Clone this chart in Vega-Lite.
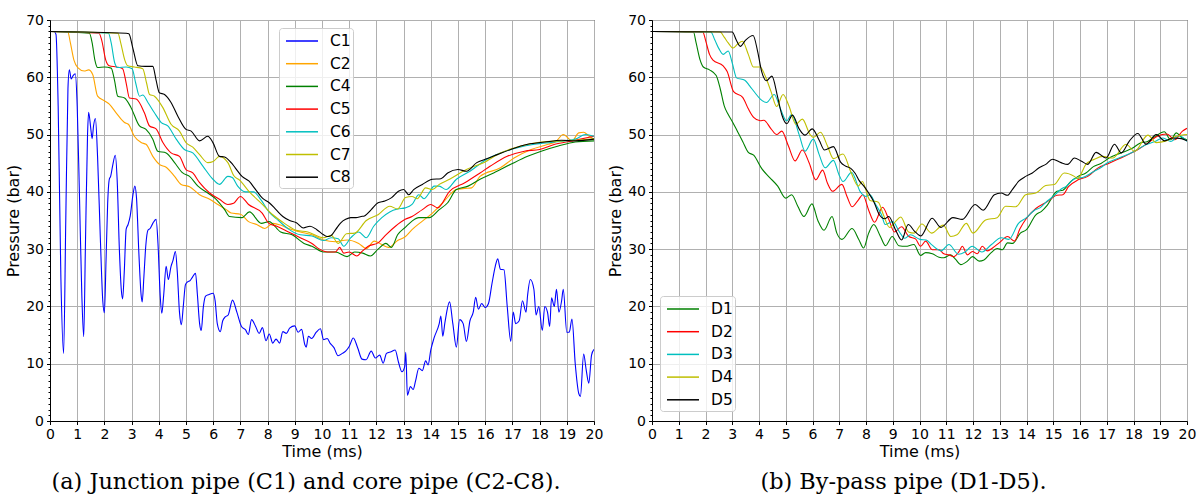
{
"$schema": "https://vega.github.io/schema/vega-lite/v6.json",
"padding": {"left": 5, "top": 12, "right": 5, "bottom": 0},
"background": "white",
"spacing": 3,
"config": {
  "view": {"stroke": "black", "strokeWidth": 1},
  "font": "DejaVu Sans",
  "axis": {"labelFont": "DejaVu Sans", "labelFontSize": 14, "labelColor": "black", "titleFont": "DejaVu Sans", "titleFontSize": 16, "titleFontWeight": "normal", "titleColor": "black", "domainColor": "black", "tickColor": "black", "gridColor": "#b0b0b0", "gridWidth": 1, "tickSize": 3.5, "labelPadding": 3},
  "legend": {"orient": "none", "title": null, "symbolType": "M-1.6,0H1.6", "symbolSize": 400, "symbolStrokeWidth": 1.5, "labelFont": "DejaVu Sans", "labelFontSize": 15.5, "labelColor": "black", "labelOffset": 17, "symbolOffset": 10, "padding": 2, "rowPadding": 2.7, "strokeColor": "#cccccc", "fillColor": "rgba(255,255,255,0.8)", "cornerRadius": 3},
  "title": {"font": "DejaVu Serif", "fontSize": 22.4, "fontWeight": "normal", "color": "black", "orient": "bottom", "offset": 11, "anchor": "middle"}
},
"resolve": {"scale": {"color": "independent"}, "legend": {"color": "independent"}},
"datasets": {
"left": [
{"s":"C1","t":0,"p":68},{"s":"C1","t":0.15,"p":68},{"s":"C1","t":0.22,"p":67.5},{"s":"C1","t":0.3,"p":55},{"s":"C1","t":0.4,"p":25},{"s":"C1","t":0.5,"p":11.8},{"s":"C1","t":0.58,"p":35},{"s":"C1","t":0.66,"p":58},{"s":"C1","t":0.71,"p":61.3},{"s":"C1","t":0.78,"p":59.7},{"s":"C1","t":0.85,"p":60.3},{"s":"C1","t":0.93,"p":60.6},{"s":"C1","t":1.0,"p":55},{"s":"C1","t":1.08,"p":40},{"s":"C1","t":1.17,"p":22},{"s":"C1","t":1.24,"p":14.7},{"s":"C1","t":1.3,"p":30},{"s":"C1","t":1.38,"p":50},{"s":"C1","t":1.42,"p":53.9},{"s":"C1","t":1.5,"p":51},{"s":"C1","t":1.55,"p":49.3},{"s":"C1","t":1.6,"p":51.5},{"s":"C1","t":1.67,"p":52.8},{"s":"C1","t":1.75,"p":46},{"s":"C1","t":1.85,"p":32},{"s":"C1","t":1.94,"p":21},{"s":"C1","t":2.0,"p":18.9},{"s":"C1","t":2.06,"p":28},{"s":"C1","t":2.12,"p":38},{"s":"C1","t":2.18,"p":42.2},{"s":"C1","t":2.23,"p":42.7},{"s":"C1","t":2.3,"p":44.5},{"s":"C1","t":2.4,"p":46.4},{"s":"C1","t":2.47,"p":42},{"s":"C1","t":2.55,"p":30},{"s":"C1","t":2.62,"p":23},{"s":"C1","t":2.67,"p":21.3},{"s":"C1","t":2.73,"p":26},{"s":"C1","t":2.8,"p":33.5},{"s":"C1","t":2.87,"p":34.3},{"s":"C1","t":2.95,"p":35.8},{"s":"C1","t":3.05,"p":39.5},{"s":"C1","t":3.12,"p":41},{"s":"C1","t":3.18,"p":39},{"s":"C1","t":3.27,"p":29},{"s":"C1","t":3.35,"p":22},{"s":"C1","t":3.39,"p":20.8},{"s":"C1","t":3.45,"p":25},{"s":"C1","t":3.52,"p":30.5},{"s":"C1","t":3.6,"p":33.3},{"s":"C1","t":3.68,"p":33.6},{"s":"C1","t":3.78,"p":34.5},{"s":"C1","t":3.9,"p":35.2},{"s":"C1","t":3.97,"p":31},{"s":"C1","t":4.05,"p":22},{"s":"C1","t":4.11,"p":18.8},{"s":"C1","t":4.18,"p":22},{"s":"C1","t":4.27,"p":27},{"s":"C1","t":4.35,"p":24.7},{"s":"C1","t":4.45,"p":27},{"s":"C1","t":4.52,"p":28},{"s":"C1","t":4.61,"p":29.6},{"s":"C1","t":4.68,"p":26},{"s":"C1","t":4.76,"p":19},{"s":"C1","t":4.83,"p":16.8},{"s":"C1","t":4.9,"p":20},{"s":"C1","t":4.98,"p":23.8},{"s":"C1","t":5.06,"p":24.3},{"s":"C1","t":5.15,"p":24.5},{"s":"C1","t":5.25,"p":25.2},{"s":"C1","t":5.35,"p":25.8},{"s":"C1","t":5.42,"p":22},{"s":"C1","t":5.5,"p":17},{"s":"C1","t":5.56,"p":15.8},{"s":"C1","t":5.64,"p":20},{"s":"C1","t":5.72,"p":21.8},{"s":"C1","t":5.85,"p":22.1},{"s":"C1","t":6.0,"p":22.3},{"s":"C1","t":6.07,"p":21},{"s":"C1","t":6.15,"p":17},{"s":"C1","t":6.26,"p":15.6},{"s":"C1","t":6.35,"p":17.5},{"s":"C1","t":6.45,"p":18.2},{"s":"C1","t":6.55,"p":18.5},{"s":"C1","t":6.71,"p":21.1},{"s":"C1","t":6.87,"p":19},{"s":"C1","t":7.04,"p":16.5},{"s":"C1","t":7.19,"p":15.9},{"s":"C1","t":7.29,"p":15.1},{"s":"C1","t":7.41,"p":17.7},{"s":"C1","t":7.56,"p":16.5},{"s":"C1","t":7.69,"p":15.3},{"s":"C1","t":7.81,"p":16.3},{"s":"C1","t":7.94,"p":14},{"s":"C1","t":8.06,"p":15.2},{"s":"C1","t":8.19,"p":13.6},{"s":"C1","t":8.31,"p":14.3},{"s":"C1","t":8.44,"p":13.6},{"s":"C1","t":8.56,"p":15.6},{"s":"C1","t":8.69,"p":15.3},{"s":"C1","t":8.81,"p":16.2},{"s":"C1","t":9.0,"p":16.6},{"s":"C1","t":9.12,"p":15.5},{"s":"C1","t":9.25,"p":16},{"s":"C1","t":9.37,"p":13.3},{"s":"C1","t":9.42,"p":12.9},{"s":"C1","t":9.5,"p":14.8},{"s":"C1","t":9.62,"p":14.4},{"s":"C1","t":9.79,"p":15.5},{"s":"C1","t":9.94,"p":16.1},{"s":"C1","t":10.06,"p":14.2},{"s":"C1","t":10.19,"p":14.4},{"s":"C1","t":10.31,"p":13.5},{"s":"C1","t":10.44,"p":12.8},{"s":"C1","t":10.59,"p":11.4},{"s":"C1","t":10.75,"p":11.8},{"s":"C1","t":10.87,"p":12.2},{"s":"C1","t":11.0,"p":13},{"s":"C1","t":11.15,"p":14.5},{"s":"C1","t":11.31,"p":12.8},{"s":"C1","t":11.47,"p":10.8},{"s":"C1","t":11.62,"p":10.7},{"s":"C1","t":11.81,"p":12.2},{"s":"C1","t":11.96,"p":11},{"s":"C1","t":12.12,"p":11.5},{"s":"C1","t":12.25,"p":10.1},{"s":"C1","t":12.37,"p":11.8},{"s":"C1","t":12.54,"p":12.1},{"s":"C1","t":12.69,"p":12.4},{"s":"C1","t":12.81,"p":10.3},{"s":"C1","t":12.94,"p":8.6},{"s":"C1","t":13.04,"p":9.5},{"s":"C1","t":13.08,"p":12},{"s":"C1","t":13.14,"p":4.5},{"s":"C1","t":13.25,"p":6},{"s":"C1","t":13.35,"p":5.5},{"s":"C1","t":13.44,"p":7},{"s":"C1","t":13.56,"p":9.2},{"s":"C1","t":13.69,"p":8.8},{"s":"C1","t":13.81,"p":10.5},{"s":"C1","t":13.9,"p":9.8},{"s":"C1","t":14.0,"p":12.4},{"s":"C1","t":14.12,"p":14.5},{"s":"C1","t":14.31,"p":17},{"s":"C1","t":14.37,"p":18.3},{"s":"C1","t":14.44,"p":14.8},{"s":"C1","t":14.52,"p":17.2},{"s":"C1","t":14.69,"p":20.8},{"s":"C1","t":14.81,"p":17},{"s":"C1","t":14.94,"p":12.9},{"s":"C1","t":15.06,"p":17.7},{"s":"C1","t":15.19,"p":17},{"s":"C1","t":15.31,"p":13.9},{"s":"C1","t":15.44,"p":17.5},{"s":"C1","t":15.56,"p":19},{"s":"C1","t":15.65,"p":21.6},{"s":"C1","t":15.75,"p":19.5},{"s":"C1","t":15.87,"p":20.5},{"s":"C1","t":16.0,"p":19.8},{"s":"C1","t":16.12,"p":20.5},{"s":"C1","t":16.25,"p":24},{"s":"C1","t":16.37,"p":27},{"s":"C1","t":16.46,"p":28.3},{"s":"C1","t":16.56,"p":26.5},{"s":"C1","t":16.69,"p":26.4},{"s":"C1","t":16.81,"p":20},{"s":"C1","t":16.94,"p":13.9},{"s":"C1","t":17.03,"p":19},{"s":"C1","t":17.12,"p":17},{"s":"C1","t":17.25,"p":17.5},{"s":"C1","t":17.37,"p":21},{"s":"C1","t":17.5,"p":19},{"s":"C1","t":17.56,"p":22},{"s":"C1","t":17.66,"p":24.7},{"s":"C1","t":17.79,"p":23},{"s":"C1","t":17.87,"p":18.5},{"s":"C1","t":17.97,"p":20},{"s":"C1","t":18.1,"p":15.8},{"s":"C1","t":18.19,"p":20},{"s":"C1","t":18.29,"p":19},{"s":"C1","t":18.37,"p":16.5},{"s":"C1","t":18.44,"p":21.5},{"s":"C1","t":18.54,"p":20},{"s":"C1","t":18.62,"p":23},{"s":"C1","t":18.71,"p":19},{"s":"C1","t":18.81,"p":21},{"s":"C1","t":18.87,"p":23},{"s":"C1","t":19.0,"p":15.5},{"s":"C1","t":19.09,"p":15.5},{"s":"C1","t":19.19,"p":17.8},{"s":"C1","t":19.31,"p":10},{"s":"C1","t":19.44,"p":4.8},{"s":"C1","t":19.5,"p":4.3},{"s":"C1","t":19.62,"p":11.7},{"s":"C1","t":19.71,"p":9},{"s":"C1","t":19.81,"p":6.6},{"s":"C1","t":19.91,"p":11.5},{"s":"C1","t":20.0,"p":12.5},
{"s":"C2","t":0,"p":68},{"s":"C2","t":0.65,"p":68},{"s":"C2","t":0.75,"p":66},{"s":"C2","t":0.88,"p":63},{"s":"C2","t":1.02,"p":61.7},{"s":"C2","t":1.26,"p":61.1},{"s":"C2","t":1.42,"p":61.3},{"s":"C2","t":1.57,"p":60.5},{"s":"C2","t":1.75,"p":56.7},{"s":"C2","t":2.0,"p":55.9},{"s":"C2","t":2.18,"p":55.3},{"s":"C2","t":2.43,"p":53.8},{"s":"C2","t":2.74,"p":52.1},{"s":"C2","t":2.88,"p":51.8},{"s":"C2","t":3.1,"p":49.7},{"s":"C2","t":3.35,"p":48.6},{"s":"C2","t":3.53,"p":48.3},{"s":"C2","t":3.78,"p":46.2},{"s":"C2","t":4.02,"p":44.8},{"s":"C2","t":4.27,"p":44.3},{"s":"C2","t":4.58,"p":42.7},{"s":"C2","t":4.82,"p":41.3},{"s":"C2","t":5.13,"p":40.9},{"s":"C2","t":5.5,"p":39.5},{"s":"C2","t":5.87,"p":38.7},{"s":"C2","t":6.17,"p":37.8},{"s":"C2","t":6.48,"p":36.9},{"s":"C2","t":6.66,"p":36.3},{"s":"C2","t":7.0,"p":36.1},{"s":"C2","t":7.3,"p":34.8},{"s":"C2","t":7.6,"p":34.3},{"s":"C2","t":7.9,"p":33.6},{"s":"C2","t":8.2,"p":34.5},{"s":"C2","t":8.48,"p":34.2},{"s":"C2","t":8.77,"p":33.6},{"s":"C2","t":9.2,"p":33},{"s":"C2","t":9.63,"p":32.5},{"s":"C2","t":10.06,"p":31.6},{"s":"C2","t":10.49,"p":31.3},{"s":"C2","t":10.92,"p":31.6},{"s":"C2","t":11.35,"p":31},{"s":"C2","t":11.63,"p":30.1},{"s":"C2","t":11.92,"p":31.4},{"s":"C2","t":12.2,"p":30.8},{"s":"C2","t":12.45,"p":30.3},{"s":"C2","t":12.78,"p":31.5},{"s":"C2","t":13.07,"p":32.2},{"s":"C2","t":13.31,"p":33.4},{"s":"C2","t":13.69,"p":34.9},{"s":"C2","t":14.06,"p":36.3},{"s":"C2","t":14.44,"p":38.1},{"s":"C2","t":14.94,"p":40.4},{"s":"C2","t":15.25,"p":40.6},{"s":"C2","t":15.5,"p":40.7},{"s":"C2","t":15.81,"p":42.7},{"s":"C2","t":16.56,"p":44.2},{"s":"C2","t":17.06,"p":45.9},{"s":"C2","t":17.69,"p":47.4},{"s":"C2","t":18.31,"p":48.3},{"s":"C2","t":18.6,"p":48.8},{"s":"C2","t":18.87,"p":50},{"s":"C2","t":19.19,"p":48.9},{"s":"C2","t":19.44,"p":50.3},{"s":"C2","t":19.62,"p":50.4},{"s":"C2","t":19.8,"p":49.8},{"s":"C2","t":20,"p":49.2},
{"s":"C4","t":0,"p":68},{"s":"C4","t":1.45,"p":67.7},{"s":"C4","t":1.55,"p":66},{"s":"C4","t":1.65,"p":63},{"s":"C4","t":1.75,"p":61.7},{"s":"C4","t":2.0,"p":61.8},{"s":"C4","t":2.25,"p":61.6},{"s":"C4","t":2.37,"p":59.5},{"s":"C4","t":2.49,"p":56.7},{"s":"C4","t":2.74,"p":56.4},{"s":"C4","t":2.98,"p":54.7},{"s":"C4","t":3.29,"p":51.5},{"s":"C4","t":3.53,"p":50.9},{"s":"C4","t":3.78,"p":49.2},{"s":"C4","t":3.96,"p":47.1},{"s":"C4","t":4.27,"p":46.8},{"s":"C4","t":4.58,"p":45.1},{"s":"C4","t":4.88,"p":43.3},{"s":"C4","t":5.13,"p":42.7},{"s":"C4","t":5.44,"p":41},{"s":"C4","t":5.8,"p":39.8},{"s":"C4","t":6.11,"p":38.7},{"s":"C4","t":6.42,"p":36.9},{"s":"C4","t":6.6,"p":35.7},{"s":"C4","t":7.05,"p":35.5},{"s":"C4","t":7.33,"p":36.5},{"s":"C4","t":7.77,"p":34.5},{"s":"C4","t":8.05,"p":34.8},{"s":"C4","t":8.48,"p":33},{"s":"C4","t":8.9,"p":32.5},{"s":"C4","t":9.34,"p":31},{"s":"C4","t":9.63,"p":30.5},{"s":"C4","t":10.06,"p":29.5},{"s":"C4","t":10.49,"p":29.5},{"s":"C4","t":10.92,"p":28.7},{"s":"C4","t":11.2,"p":29.5},{"s":"C4","t":11.5,"p":29.3},{"s":"C4","t":11.78,"p":28.8},{"s":"C4","t":12.06,"p":30},{"s":"C4","t":12.35,"p":31},{"s":"C4","t":12.55,"p":30.3},{"s":"C4","t":12.78,"p":32.5},{"s":"C4","t":13.06,"p":33.8},{"s":"C4","t":13.31,"p":34.9},{"s":"C4","t":13.56,"p":35.5},{"s":"C4","t":13.94,"p":35.5},{"s":"C4","t":14.31,"p":36.9},{"s":"C4","t":14.62,"p":38.1},{"s":"C4","t":14.94,"p":40.4},{"s":"C4","t":15.37,"p":41},{"s":"C4","t":15.81,"p":42.2},{"s":"C4","t":16.31,"p":43.3},{"s":"C4","t":16.94,"p":44.8},{"s":"C4","t":17.56,"p":46.2},{"s":"C4","t":18.06,"p":47.1},{"s":"C4","t":18.69,"p":48},{"s":"C4","t":19.31,"p":48.7},{"s":"C4","t":20,"p":48.9},
{"s":"C5","t":0,"p":68},{"s":"C5","t":1.8,"p":67.7},{"s":"C5","t":1.9,"p":66.5},{"s":"C5","t":2.05,"p":63},{"s":"C5","t":2.18,"p":62},{"s":"C5","t":2.45,"p":61.8},{"s":"C5","t":2.67,"p":61.5},{"s":"C5","t":2.8,"p":59},{"s":"C5","t":2.92,"p":56.4},{"s":"C5","t":3.17,"p":56.2},{"s":"C5","t":3.47,"p":53.8},{"s":"C5","t":3.66,"p":51.5},{"s":"C5","t":3.9,"p":51},{"s":"C5","t":4.15,"p":48.6},{"s":"C5","t":4.45,"p":46.8},{"s":"C5","t":4.76,"p":46.2},{"s":"C5","t":5.0,"p":43.9},{"s":"C5","t":5.25,"p":43.3},{"s":"C5","t":5.5,"p":41.6},{"s":"C5","t":5.87,"p":39.8},{"s":"C5","t":6.23,"p":38.7},{"s":"C5","t":6.54,"p":37.8},{"s":"C5","t":6.75,"p":38},{"s":"C5","t":7.0,"p":39.2},{"s":"C5","t":7.3,"p":37.8},{"s":"C5","t":7.8,"p":36.3},{"s":"C5","t":8.05,"p":34.5},{"s":"C5","t":8.34,"p":34},{"s":"C5","t":8.77,"p":33},{"s":"C5","t":9.2,"p":32},{"s":"C5","t":9.63,"p":31},{"s":"C5","t":9.91,"p":30},{"s":"C5","t":10.2,"p":29.5},{"s":"C5","t":10.49,"p":29.5},{"s":"C5","t":10.65,"p":30.3},{"s":"C5","t":10.8,"p":29.3},{"s":"C5","t":11.0,"p":29.5},{"s":"C5","t":11.28,"p":28.8},{"s":"C5","t":11.45,"p":29.5},{"s":"C5","t":11.7,"p":30.5},{"s":"C5","t":12.06,"p":31.1},{"s":"C5","t":12.35,"p":32.5},{"s":"C5","t":12.7,"p":34},{"s":"C5","t":13.06,"p":35.2},{"s":"C5","t":13.31,"p":35.7},{"s":"C5","t":13.69,"p":36.9},{"s":"C5","t":14.0,"p":37.8},{"s":"C5","t":14.25,"p":37.2},{"s":"C5","t":14.69,"p":40.1},{"s":"C5","t":15.25,"p":41.6},{"s":"C5","t":15.81,"p":43.3},{"s":"C5","t":16.19,"p":44.5},{"s":"C5","t":16.81,"p":46.2},{"s":"C5","t":17.44,"p":47.1},{"s":"C5","t":18.0,"p":47.4},{"s":"C5","t":18.56,"p":48.3},{"s":"C5","t":19.19,"p":48.9},{"s":"C5","t":20,"p":49.7},
{"s":"C6","t":0,"p":68},{"s":"C6","t":2.15,"p":67.7},{"s":"C6","t":2.25,"p":66},{"s":"C6","t":2.38,"p":62.5},{"s":"C6","t":2.49,"p":61.7},{"s":"C6","t":2.8,"p":61.8},{"s":"C6","t":3.02,"p":61.5},{"s":"C6","t":3.15,"p":59},{"s":"C6","t":3.29,"p":56.7},{"s":"C6","t":3.41,"p":56.9},{"s":"C6","t":3.6,"p":55.6},{"s":"C6","t":3.84,"p":53.8},{"s":"C6","t":4.09,"p":52.1},{"s":"C6","t":4.33,"p":51.5},{"s":"C6","t":4.64,"p":49.2},{"s":"C6","t":4.94,"p":47.4},{"s":"C6","t":5.25,"p":46.8},{"s":"C6","t":5.62,"p":44.5},{"s":"C6","t":5.99,"p":42.2},{"s":"C6","t":6.23,"p":41.3},{"s":"C6","t":6.54,"p":42.7},{"s":"C6","t":6.7,"p":42.5},{"s":"C6","t":6.9,"p":41},{"s":"C6","t":7.19,"p":40},{"s":"C6","t":7.48,"p":40},{"s":"C6","t":7.77,"p":38.5},{"s":"C6","t":8.05,"p":36.5},{"s":"C6","t":8.4,"p":35},{"s":"C6","t":8.77,"p":33.5},{"s":"C6","t":9.2,"p":32.5},{"s":"C6","t":9.63,"p":32.3},{"s":"C6","t":10.06,"p":31.5},{"s":"C6","t":10.34,"p":32},{"s":"C6","t":10.6,"p":31.8},{"s":"C6","t":10.8,"p":30.5},{"s":"C6","t":11.06,"p":32},{"s":"C6","t":11.35,"p":33},{"s":"C6","t":11.63,"p":32},{"s":"C6","t":11.9,"p":34},{"s":"C6","t":12.2,"p":35.5},{"s":"C6","t":12.49,"p":36.5},{"s":"C6","t":12.78,"p":37},{"s":"C6","t":13.06,"p":37.2},{"s":"C6","t":13.31,"p":37.8},{"s":"C6","t":13.56,"p":39.5},{"s":"C6","t":13.75,"p":38.8},{"s":"C6","t":13.94,"p":39.8},{"s":"C6","t":14.12,"p":41},{"s":"C6","t":14.31,"p":41},{"s":"C6","t":14.56,"p":40.4},{"s":"C6","t":14.94,"p":42.2},{"s":"C6","t":15.44,"p":43.6},{"s":"C6","t":16.06,"p":45.7},{"s":"C6","t":16.56,"p":46.8},{"s":"C6","t":17.19,"p":47.7},{"s":"C6","t":17.81,"p":48.3},{"s":"C6","t":18.56,"p":48.7},{"s":"C6","t":19.31,"p":49.2},{"s":"C6","t":19.69,"p":50},{"s":"C6","t":20,"p":49.7},
{"s":"C7","t":0,"p":68},{"s":"C7","t":2.5,"p":67.7},{"s":"C7","t":2.6,"p":66},{"s":"C7","t":2.75,"p":63},{"s":"C7","t":2.86,"p":62},{"s":"C7","t":3.1,"p":61.8},{"s":"C7","t":3.41,"p":61.5},{"s":"C7","t":3.55,"p":59},{"s":"C7","t":3.66,"p":57},{"s":"C7","t":3.84,"p":56.7},{"s":"C7","t":4.15,"p":54.7},{"s":"C7","t":4.45,"p":51.8},{"s":"C7","t":4.76,"p":50.6},{"s":"C7","t":5.0,"p":48.6},{"s":"C7","t":5.25,"p":47.8},{"s":"C7","t":5.5,"p":46.5},{"s":"C7","t":5.8,"p":45.1},{"s":"C7","t":6.0,"p":45.3},{"s":"C7","t":6.23,"p":46.2},{"s":"C7","t":6.54,"p":45.1},{"s":"C7","t":6.76,"p":42.8},{"s":"C7","t":6.98,"p":42},{"s":"C7","t":7.33,"p":40},{"s":"C7","t":7.77,"p":38},{"s":"C7","t":8.19,"p":36},{"s":"C7","t":8.62,"p":34.5},{"s":"C7","t":9.05,"p":33.3},{"s":"C7","t":9.48,"p":33},{"s":"C7","t":10.06,"p":32},{"s":"C7","t":10.34,"p":32.4},{"s":"C7","t":10.6,"p":31},{"s":"C7","t":10.9,"p":32.7},{"s":"C7","t":11.2,"p":32.8},{"s":"C7","t":11.63,"p":35},{"s":"C7","t":12.06,"p":36},{"s":"C7","t":12.49,"p":37.5},{"s":"C7","t":12.78,"p":37},{"s":"C7","t":13.07,"p":39},{"s":"C7","t":13.31,"p":39.2},{"s":"C7","t":13.5,"p":38.8},{"s":"C7","t":13.81,"p":40.7},{"s":"C7","t":14.06,"p":40.4},{"s":"C7","t":14.31,"p":41.3},{"s":"C7","t":14.69,"p":42.2},{"s":"C7","t":15.31,"p":43.9},{"s":"C7","t":15.94,"p":45.1},{"s":"C7","t":16.56,"p":46.8},{"s":"C7","t":17.31,"p":48},{"s":"C7","t":18.06,"p":48.7},{"s":"C7","t":18.81,"p":48.9},{"s":"C7","t":19.56,"p":49.1},{"s":"C7","t":20,"p":49.3},
{"s":"C8","t":0,"p":68},{"s":"C8","t":2.8,"p":67.7},{"s":"C8","t":2.9,"p":67.6},{"s":"C8","t":3.05,"p":65},{"s":"C8","t":3.23,"p":62},{"s":"C8","t":3.5,"p":61.9},{"s":"C8","t":3.78,"p":61.9},{"s":"C8","t":3.9,"p":59.5},{"s":"C8","t":4.02,"p":57.3},{"s":"C8","t":4.21,"p":57},{"s":"C8","t":4.45,"p":55.6},{"s":"C8","t":4.7,"p":53.2},{"s":"C8","t":5.0,"p":50.9},{"s":"C8","t":5.19,"p":50.6},{"s":"C8","t":5.5,"p":48.9},{"s":"C8","t":5.8,"p":49.7},{"s":"C8","t":5.99,"p":48.6},{"s":"C8","t":6.23,"p":46.2},{"s":"C8","t":6.42,"p":46.1},{"s":"C8","t":6.66,"p":45.1},{"s":"C8","t":6.81,"p":44.2},{"s":"C8","t":7.06,"p":42.7},{"s":"C8","t":7.31,"p":41.9},{"s":"C8","t":7.56,"p":40.4},{"s":"C8","t":7.81,"p":38.9},{"s":"C8","t":8.06,"p":38.1},{"s":"C8","t":8.31,"p":36.9},{"s":"C8","t":8.56,"p":35.7},{"s":"C8","t":8.81,"p":35},{"s":"C8","t":9.06,"p":34.6},{"s":"C8","t":9.31,"p":33.7},{"s":"C8","t":9.56,"p":34},{"s":"C8","t":9.81,"p":33.4},{"s":"C8","t":10.06,"p":32.5},{"s":"C8","t":10.19,"p":32.2},{"s":"C8","t":10.31,"p":32.3},{"s":"C8","t":10.5,"p":33.4},{"s":"C8","t":10.69,"p":34.6},{"s":"C8","t":10.87,"p":35.2},{"s":"C8","t":11.06,"p":35.5},{"s":"C8","t":11.25,"p":35.5},{"s":"C8","t":11.44,"p":35.7},{"s":"C8","t":11.56,"p":35.8},{"s":"C8","t":11.81,"p":36.9},{"s":"C8","t":12.06,"p":38.1},{"s":"C8","t":12.31,"p":38.4},{"s":"C8","t":12.56,"p":39},{"s":"C8","t":12.81,"p":40.1},{"s":"C8","t":13.0,"p":40.4},{"s":"C8","t":13.19,"p":39.5},{"s":"C8","t":13.37,"p":40.4},{"s":"C8","t":13.69,"p":41.3},{"s":"C8","t":14.06,"p":42.2},{"s":"C8","t":14.37,"p":42.3},{"s":"C8","t":14.62,"p":43.3},{"s":"C8","t":15.0,"p":43.9},{"s":"C8","t":15.31,"p":43.6},{"s":"C8","t":15.69,"p":45.1},{"s":"C8","t":16.0,"p":45.7},{"s":"C8","t":16.44,"p":46.5},{"s":"C8","t":16.94,"p":47.4},{"s":"C8","t":17.56,"p":48.3},{"s":"C8","t":18.19,"p":48.7},{"s":"C8","t":18.81,"p":49},{"s":"C8","t":19.31,"p":48.9},{"s":"C8","t":20,"p":49.2}
],
"right": [
{"s":"D1","t":0,"p":68},{"s":"D1","t":1.55,"p":67.9},{"s":"D1","t":1.65,"p":66},{"s":"D1","t":1.8,"p":63},{"s":"D1","t":1.92,"p":61.8},{"s":"D1","t":2.15,"p":61.3},{"s":"D1","t":2.4,"p":60.3},{"s":"D1","t":2.55,"p":58},{"s":"D1","t":2.7,"p":55},{"s":"D1","t":2.85,"p":53.5},{"s":"D1","t":3.0,"p":52.3},{"s":"D1","t":3.2,"p":50.5},{"s":"D1","t":3.39,"p":48.8},{"s":"D1","t":3.6,"p":46.9},{"s":"D1","t":3.8,"p":46.4},{"s":"D1","t":4.11,"p":44},{"s":"D1","t":4.4,"p":42.5},{"s":"D1","t":4.7,"p":41},{"s":"D1","t":5.0,"p":38.9},{"s":"D1","t":5.22,"p":39.5},{"s":"D1","t":5.45,"p":37.5},{"s":"D1","t":5.68,"p":35.7},{"s":"D1","t":5.98,"p":37.9},{"s":"D1","t":6.2,"p":35},{"s":"D1","t":6.43,"p":33.3},{"s":"D1","t":6.73,"p":35.7},{"s":"D1","t":6.91,"p":32.8},{"s":"D1","t":7.1,"p":31.7},{"s":"D1","t":7.48,"p":33.6},{"s":"D1","t":7.73,"p":31.7},{"s":"D1","t":7.91,"p":30.2},{"s":"D1","t":8.1,"p":32.8},{"s":"D1","t":8.29,"p":34.3},{"s":"D1","t":8.54,"p":32.2},{"s":"D1","t":8.73,"p":30.6},{"s":"D1","t":8.98,"p":32.2},{"s":"D1","t":9.23,"p":30.6},{"s":"D1","t":9.48,"p":30.5},{"s":"D1","t":9.79,"p":30.8},{"s":"D1","t":10.04,"p":28.9},{"s":"D1","t":10.23,"p":29.4},{"s":"D1","t":10.48,"p":29.2},{"s":"D1","t":10.73,"p":28.6},{"s":"D1","t":10.91,"p":28.5},{"s":"D1","t":11.16,"p":29},{"s":"D1","t":11.35,"p":28.2},{"s":"D1","t":11.54,"p":27.3},{"s":"D1","t":11.79,"p":27.9},{"s":"D1","t":11.98,"p":28.7},{"s":"D1","t":12.23,"p":27.9},{"s":"D1","t":12.41,"p":28.1},{"s":"D1","t":12.66,"p":29.3},{"s":"D1","t":12.91,"p":30.1},{"s":"D1","t":13.1,"p":29.9},{"s":"D1","t":13.29,"p":31.1},{"s":"D1","t":13.48,"p":31},{"s":"D1","t":13.77,"p":32.8},{"s":"D1","t":14.0,"p":33.4},{"s":"D1","t":14.35,"p":36},{"s":"D1","t":14.56,"p":36.6},{"s":"D1","t":14.78,"p":37.7},{"s":"D1","t":15.14,"p":40.1},{"s":"D1","t":15.36,"p":40.3},{"s":"D1","t":15.65,"p":41.8},{"s":"D1","t":15.93,"p":42.7},{"s":"D1","t":16.22,"p":43.3},{"s":"D1","t":16.5,"p":44.4},{"s":"D1","t":16.8,"p":45},{"s":"D1","t":17.09,"p":45.9},{"s":"D1","t":17.37,"p":46.5},{"s":"D1","t":17.66,"p":47},{"s":"D1","t":17.95,"p":47.6},{"s":"D1","t":18.24,"p":48.5},{"s":"D1","t":18.53,"p":48.8},{"s":"D1","t":18.82,"p":49.7},{"s":"D1","t":19.15,"p":50.5},{"s":"D1","t":19.39,"p":49.1},{"s":"D1","t":19.6,"p":50.3},{"s":"D1","t":19.8,"p":49.5},{"s":"D1","t":20,"p":49.1},
{"s":"D2","t":0,"p":68},{"s":"D2","t":1.9,"p":67.9},{"s":"D2","t":2.0,"p":66.5},{"s":"D2","t":2.15,"p":64},{"s":"D2","t":2.28,"p":63},{"s":"D2","t":2.66,"p":62},{"s":"D2","t":2.81,"p":61},{"s":"D2","t":3.05,"p":57.5},{"s":"D2","t":3.39,"p":56.5},{"s":"D2","t":3.6,"p":54.5},{"s":"D2","t":3.8,"p":53},{"s":"D2","t":4.05,"p":52.4},{"s":"D2","t":4.18,"p":52.5},{"s":"D2","t":4.45,"p":51},{"s":"D2","t":4.66,"p":50},{"s":"D2","t":4.85,"p":50.6},{"s":"D2","t":5.1,"p":48},{"s":"D2","t":5.35,"p":45.4},{"s":"D2","t":5.62,"p":47.3},{"s":"D2","t":5.88,"p":45},{"s":"D2","t":6.12,"p":42.1},{"s":"D2","t":6.38,"p":43.8},{"s":"D2","t":6.56,"p":41.5},{"s":"D2","t":6.75,"p":40.1},{"s":"D2","t":7.1,"p":41.3},{"s":"D2","t":7.29,"p":39.2},{"s":"D2","t":7.48,"p":37.4},{"s":"D2","t":7.73,"p":38.7},{"s":"D2","t":7.88,"p":39.5},{"s":"D2","t":8.1,"p":36.8},{"s":"D2","t":8.32,"p":34.7},{"s":"D2","t":8.62,"p":37.3},{"s":"D2","t":8.85,"p":35.2},{"s":"D2","t":9.06,"p":33},{"s":"D2","t":9.33,"p":33.9},{"s":"D2","t":9.6,"p":32.2},{"s":"D2","t":9.85,"p":31.8},{"s":"D2","t":10.04,"p":30.5},{"s":"D2","t":10.23,"p":31.4},{"s":"D2","t":10.48,"p":29.9},{"s":"D2","t":10.73,"p":29.9},{"s":"D2","t":10.91,"p":29.2},{"s":"D2","t":11.1,"p":29},{"s":"D2","t":11.29,"p":28.7},{"s":"D2","t":11.48,"p":29.6},{"s":"D2","t":11.6,"p":30.5},{"s":"D2","t":11.79,"p":29},{"s":"D2","t":11.98,"p":29.6},{"s":"D2","t":12.16,"p":29.2},{"s":"D2","t":12.35,"p":30.5},{"s":"D2","t":12.54,"p":29.7},{"s":"D2","t":12.73,"p":30.2},{"s":"D2","t":12.98,"p":31.1},{"s":"D2","t":13.29,"p":32.2},{"s":"D2","t":13.55,"p":31.4},{"s":"D2","t":13.75,"p":33.5},{"s":"D2","t":14.0,"p":35.4},{"s":"D2","t":14.35,"p":37.1},{"s":"D2","t":14.78,"p":38.3},{"s":"D2","t":15.14,"p":39.4},{"s":"D2","t":15.36,"p":39.5},{"s":"D2","t":15.57,"p":40.9},{"s":"D2","t":15.93,"p":42.1},{"s":"D2","t":16.29,"p":42.7},{"s":"D2","t":16.65,"p":44.1},{"s":"D2","t":17.09,"p":45},{"s":"D2","t":17.37,"p":45.6},{"s":"D2","t":17.8,"p":46.5},{"s":"D2","t":18.24,"p":47.6},{"s":"D2","t":18.53,"p":48.5},{"s":"D2","t":18.89,"p":49.7},{"s":"D2","t":19.25,"p":50.1},{"s":"D2","t":19.54,"p":49.1},{"s":"D2","t":19.83,"p":50.6},{"s":"D2","t":20,"p":51.1},
{"s":"D3","t":0,"p":68},{"s":"D3","t":2.2,"p":67.9},{"s":"D3","t":2.35,"p":66.5},{"s":"D3","t":2.5,"p":65},{"s":"D3","t":2.66,"p":64},{"s":"D3","t":2.85,"p":64.6},{"s":"D3","t":3.0,"p":62.5},{"s":"D3","t":3.16,"p":59.9},{"s":"D3","t":3.47,"p":59.5},{"s":"D3","t":3.65,"p":58.5},{"s":"D3","t":3.85,"p":57.3},{"s":"D3","t":4.05,"p":56.2},{"s":"D3","t":4.28,"p":55.6},{"s":"D3","t":4.57,"p":57},{"s":"D3","t":4.8,"p":54.5},{"s":"D3","t":5.03,"p":52.4},{"s":"D3","t":5.22,"p":53.5},{"s":"D3","t":5.5,"p":50},{"s":"D3","t":5.72,"p":47.1},{"s":"D3","t":6.03,"p":49.2},{"s":"D3","t":6.25,"p":46.5},{"s":"D3","t":6.47,"p":44.2},{"s":"D3","t":6.78,"p":45.5},{"s":"D3","t":6.99,"p":43},{"s":"D3","t":7.14,"p":41.8},{"s":"D3","t":7.46,"p":43.4},{"s":"D3","t":7.79,"p":40},{"s":"D3","t":8.0,"p":39.2},{"s":"D3","t":8.15,"p":39.5},{"s":"D3","t":8.36,"p":37.8},{"s":"D3","t":8.58,"p":36},{"s":"D3","t":8.72,"p":34.3},{"s":"D3","t":9.0,"p":34.8},{"s":"D3","t":9.25,"p":33},{"s":"D3","t":9.44,"p":31.9},{"s":"D3","t":9.66,"p":32.5},{"s":"D3","t":10.02,"p":31.7},{"s":"D3","t":10.25,"p":31.6},{"s":"D3","t":10.45,"p":30.8},{"s":"D3","t":10.81,"p":29.7},{"s":"D3","t":11.1,"p":30.8},{"s":"D3","t":11.46,"p":29.1},{"s":"D3","t":11.7,"p":29.5},{"s":"D3","t":11.97,"p":30.5},{"s":"D3","t":12.33,"p":29.5},{"s":"D3","t":12.69,"p":30.8},{"s":"D3","t":13.05,"p":32},{"s":"D3","t":13.34,"p":31.7},{"s":"D3","t":13.7,"p":34.5},{"s":"D3","t":14.0,"p":35.5},{"s":"D3","t":14.3,"p":36.8},{"s":"D3","t":14.5,"p":37.2},{"s":"D3","t":14.8,"p":38.5},{"s":"D3","t":15.0,"p":39.2},{"s":"D3","t":15.3,"p":40.5},{"s":"D3","t":15.5,"p":41},{"s":"D3","t":15.8,"p":42.3},{"s":"D3","t":16.1,"p":42.5},{"s":"D3","t":16.5,"p":43.5},{"s":"D3","t":16.8,"p":44.3},{"s":"D3","t":17.0,"p":45},{"s":"D3","t":17.5,"p":46},{"s":"D3","t":18.0,"p":47},{"s":"D3","t":18.5,"p":48.3},{"s":"D3","t":18.8,"p":48.8},{"s":"D3","t":19.1,"p":49.4},{"s":"D3","t":19.4,"p":48.8},{"s":"D3","t":19.7,"p":49.8},{"s":"D3","t":20,"p":48.8},
{"s":"D4","t":0,"p":68},{"s":"D4","t":2.55,"p":67.9},{"s":"D4","t":2.7,"p":67},{"s":"D4","t":2.85,"p":66},{"s":"D4","t":3.03,"p":65.1},{"s":"D4","t":3.2,"p":65.8},{"s":"D4","t":3.38,"p":66.3},{"s":"D4","t":3.6,"p":64},{"s":"D4","t":3.79,"p":61.8},{"s":"D4","t":4.04,"p":61.8},{"s":"D4","t":4.25,"p":60},{"s":"D4","t":4.45,"p":57.5},{"s":"D4","t":4.66,"p":54.9},{"s":"D4","t":4.9,"p":57},{"s":"D4","t":5.12,"p":55},{"s":"D4","t":5.38,"p":51.8},{"s":"D4","t":5.62,"p":52.7},{"s":"D4","t":5.91,"p":50},{"s":"D4","t":6.03,"p":49.5},{"s":"D4","t":6.3,"p":50.4},{"s":"D4","t":6.56,"p":48},{"s":"D4","t":6.78,"p":45.8},{"s":"D4","t":7.14,"p":46.6},{"s":"D4","t":7.43,"p":43.5},{"s":"D4","t":7.71,"p":41},{"s":"D4","t":7.86,"p":41.8},{"s":"D4","t":8.15,"p":38.5},{"s":"D4","t":8.46,"p":38.2},{"s":"D4","t":8.65,"p":36},{"s":"D4","t":8.88,"p":33.8},{"s":"D4","t":9.1,"p":34.8},{"s":"D4","t":9.3,"p":35.6},{"s":"D4","t":9.59,"p":33},{"s":"D4","t":9.8,"p":32.8},{"s":"D4","t":10.09,"p":34.4},{"s":"D4","t":10.45,"p":32.8},{"s":"D4","t":10.89,"p":34.2},{"s":"D4","t":11.17,"p":32.2},{"s":"D4","t":11.4,"p":32.5},{"s":"D4","t":11.75,"p":34.5},{"s":"D4","t":12.0,"p":32.8},{"s":"D4","t":12.47,"p":35.1},{"s":"D4","t":12.9,"p":35.5},{"s":"D4","t":13.22,"p":37.5},{"s":"D4","t":13.6,"p":37.4},{"s":"D4","t":13.97,"p":39.5},{"s":"D4","t":14.35,"p":39.8},{"s":"D4","t":14.72,"p":41.1},{"s":"D4","t":15.04,"p":41.3},{"s":"D4","t":15.41,"p":43.3},{"s":"D4","t":15.79,"p":42.7},{"s":"D4","t":15.91,"p":42.3},{"s":"D4","t":16.22,"p":44.8},{"s":"D4","t":16.54,"p":45.7},{"s":"D4","t":16.85,"p":46.2},{"s":"D4","t":17.22,"p":45.9},{"s":"D4","t":17.72,"p":48.3},{"s":"D4","t":18.04,"p":47.1},{"s":"D4","t":18.54,"p":49.9},{"s":"D4","t":18.85,"p":48.6},{"s":"D4","t":19.22,"p":48.9},{"s":"D4","t":19.6,"p":49.7},{"s":"D4","t":20,"p":50},
{"s":"D5","t":0,"p":68},{"s":"D5","t":3.0,"p":67.9},{"s":"D5","t":3.15,"p":66.5},{"s":"D5","t":3.3,"p":65.4},{"s":"D5","t":3.5,"p":66.5},{"s":"D5","t":3.78,"p":67.3},{"s":"D5","t":3.95,"p":64.5},{"s":"D5","t":4.1,"p":61},{"s":"D5","t":4.28,"p":59.4},{"s":"D5","t":4.48,"p":60.2},{"s":"D5","t":4.7,"p":56.5},{"s":"D5","t":4.85,"p":53.5},{"s":"D5","t":5.04,"p":51.9},{"s":"D5","t":5.25,"p":53.4},{"s":"D5","t":5.5,"p":51},{"s":"D5","t":5.72,"p":49.9},{"s":"D5","t":5.99,"p":51},{"s":"D5","t":6.25,"p":49},{"s":"D5","t":6.45,"p":47.3},{"s":"D5","t":6.78,"p":47.9},{"s":"D5","t":7.05,"p":45.2},{"s":"D5","t":7.23,"p":44.5},{"s":"D5","t":7.43,"p":44.1},{"s":"D5","t":7.6,"p":43.2},{"s":"D5","t":7.74,"p":42},{"s":"D5","t":7.92,"p":41},{"s":"D5","t":8.1,"p":39.8},{"s":"D5","t":8.3,"p":38.2},{"s":"D5","t":8.5,"p":36},{"s":"D5","t":8.7,"p":35.3},{"s":"D5","t":8.85,"p":35.7},{"s":"D5","t":9.1,"p":33.4},{"s":"D5","t":9.33,"p":31.6},{"s":"D5","t":9.58,"p":34.3},{"s":"D5","t":9.8,"p":33.2},{"s":"D5","t":10.05,"p":32.3},{"s":"D5","t":10.47,"p":35.4},{"s":"D5","t":10.8,"p":33.8},{"s":"D5","t":11.25,"p":35.5},{"s":"D5","t":11.6,"p":35.2},{"s":"D5","t":12.08,"p":37.8},{"s":"D5","t":12.38,"p":36.8},{"s":"D5","t":12.8,"p":39.5},{"s":"D5","t":13.05,"p":39.8},{"s":"D5","t":13.29,"p":39.4},{"s":"D5","t":13.47,"p":40.4},{"s":"D5","t":13.72,"p":41.9},{"s":"D5","t":13.97,"p":42.7},{"s":"D5","t":14.22,"p":43.3},{"s":"D5","t":14.47,"p":44.2},{"s":"D5","t":14.72,"p":44.8},{"s":"D5","t":14.97,"p":45.7},{"s":"D5","t":15.29,"p":45.1},{"s":"D5","t":15.54,"p":44.8},{"s":"D5","t":15.79,"p":45.9},{"s":"D5","t":16.04,"p":45.4},{"s":"D5","t":16.29,"p":44.8},{"s":"D5","t":16.6,"p":46.9},{"s":"D5","t":16.97,"p":45.9},{"s":"D5","t":17.29,"p":48.3},{"s":"D5","t":17.54,"p":46.8},{"s":"D5","t":17.85,"p":48.9},{"s":"D5","t":18.16,"p":50.2},{"s":"D5","t":18.47,"p":48.3},{"s":"D5","t":18.85,"p":50},{"s":"D5","t":19.16,"p":48.9},{"s":"D5","t":19.47,"p":49.4},{"s":"D5","t":19.79,"p":49.3},{"s":"D5","t":20,"p":48.9}
]
},
"hconcat": [
{
  "width": 544, "height": 401,
  "title": {"text": "(a) Junction pipe (C1) and core pipe (C2-C8).", "dx": -16},
  "data": {"name": "left"},
  "mark": {"type": "line", "strokeWidth": 1.1, "clip": true, "interpolate": "monotone"},
  "encoding": {
    "x": {"field": "t", "type": "quantitative", "scale": {"domain": [0, 20], "nice": false},
      "axis": {"title": "Time (ms)", "values": [0,1,2,3,4,5,6,7,8,9,10,11,12,13,14,15,16,17,18,19,20], "titlePadding": 2, "labelOverlap": false, "labelFlush": false}},
    "y": {"field": "p", "type": "quantitative", "scale": {"domain": [0, 70], "nice": false},
      "axis": {"title": "Pressure (bar)", "titlePadding": 4, "labelOverlap": false, "labelFlush": false,
        "values": [0,1,2,3,4,5,6,7,8,9,10,11,12,13,14,15,16,17,18,19,20,21,22,23,24,25,26,27,28,29,30,31,32,33,34,35,36,37,38,39,40,41,42,43,44,45,46,47,48,49,50,51,52,53,54,55,56,57,58,59,60,61,62,63,64,65,66,67,68,69,70],
        "labelExpr": "datum.value % 10 === 0 ? datum.label : ''",
        "tickSize": {"condition": {"test": "datum.value % 10 === 0", "value": 3.5}, "value": 2},
        "gridOpacity": {"condition": {"test": "datum.value % 10 === 0", "value": 1}, "value": 0}}},
    "color": {"field": "s", "type": "nominal",
      "scale": {"domain": ["C1","C2","C4","C5","C6","C7","C8"], "range": ["#0000ff","#ffa500","#008000","#ff0000","#00bfbf","#bfbf00","#000000"]},
      "legend": {"legendX": 229, "legendY": 8}}
  }
},
{
  "width": 535, "height": 401,
  "title": {"text": "(b) By-pass pipe (D1-D5).", "dx": -16},
  "data": {"name": "right"},
  "mark": {"type": "line", "strokeWidth": 1.1, "clip": true, "interpolate": "monotone"},
  "encoding": {
    "x": {"field": "t", "type": "quantitative", "scale": {"domain": [0, 20], "nice": false},
      "axis": {"title": "Time (ms)", "values": [0,1,2,3,4,5,6,7,8,9,10,11,12,13,14,15,16,17,18,19,20], "titlePadding": 2, "labelOverlap": false, "labelFlush": false}},
    "y": {"field": "p", "type": "quantitative", "scale": {"domain": [0, 70], "nice": false},
      "axis": {"title": "Pressure (bar)", "titlePadding": 4, "labelOverlap": false, "labelFlush": false,
        "values": [0,1,2,3,4,5,6,7,8,9,10,11,12,13,14,15,16,17,18,19,20,21,22,23,24,25,26,27,28,29,30,31,32,33,34,35,36,37,38,39,40,41,42,43,44,45,46,47,48,49,50,51,52,53,54,55,56,57,58,59,60,61,62,63,64,65,66,67,68,69,70],
        "labelExpr": "datum.value % 10 === 0 ? datum.label : ''",
        "tickSize": {"condition": {"test": "datum.value % 10 === 0", "value": 3.5}, "value": 2},
        "gridOpacity": {"condition": {"test": "datum.value % 10 === 0", "value": 1}, "value": 0}}},
    "color": {"field": "s", "type": "nominal",
      "scale": {"domain": ["D1","D2","D3","D4","D5"], "range": ["#008000","#ff0000","#00bfbf","#bfbf00","#000000"]},
      "legend": {"legendX": 8, "legendY": 276}}
  }
}
]
}
